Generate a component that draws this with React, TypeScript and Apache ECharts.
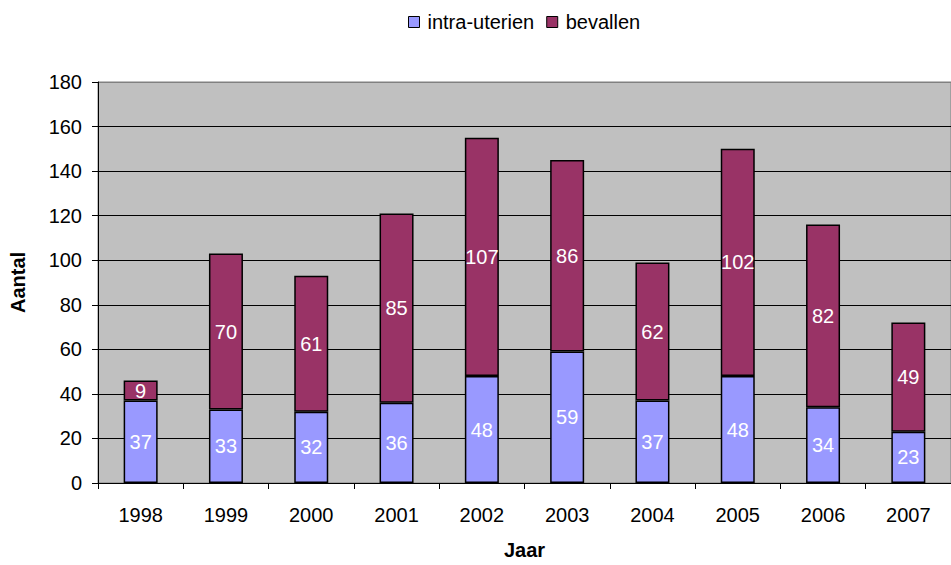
import React, { useEffect, useRef } from "react";
import * as echarts from "echarts";

const years = ["1998", "1999", "2000", "2001", "2002", "2003", "2004", "2005", "2006", "2007"];
const intraUterien = [37, 33, 32, 36, 48, 59, 37, 48, 34, 23];
const bevallen = [9, 70, 61, 85, 107, 86, 62, 102, 82, 49];
const seriesNames = ["intra-uterien", "bevallen"];
const seriesColors = ["#9999FF", "#993366"];

const FONT = "'Liberation Sans', Arial, sans-serif";

export default function App() {
  const ref = useRef<HTMLDivElement>(null);
  useEffect(() => {
    document.body.style.margin = "0";
    if (!ref.current) return;
    const chart = echarts.init(ref.current, null, { renderer: "svg" });
    const splitColors = Array.from({ length: 10 }, (_, i) => (i === 9 ? "#808080" : "#000000"));
    const mkSeries = (name: string, data: number[], color: string) => ({
      name,
      type: "bar",
      stack: "total",
      data,
      barWidth: 34,
      itemStyle: { color, borderColor: "#000", borderWidth: 1.5 },
      label: {
        show: true,
        position: "inside",
        color: "#fff",
        fontSize: 20,
        fontFamily: FONT,
      },
    });
    chart.setOption({
      animation: false,
      backgroundColor: "#fff",
      textStyle: { fontFamily: FONT },
      legend: {
        left: 403,
        top: 7,
        icon: "rect",
        itemWidth: 11,
        itemHeight: 11,
        itemGap: 12,
        itemStyle: { borderColor: "#000", borderWidth: 1 },
        textStyle: { fontSize: 20, color: "#000", fontFamily: FONT, padding: [0, 0, 0, 3] },
        data: seriesNames,
      },
      grid: {
        show: true,
        left: 98,
        top: 82,
        width: 864,
        height: 403,
        backgroundColor: "#C0C0C0",
        borderColor: "#808080",
        borderWidth: 1,
        containLabel: false,
      },
      xAxis: {
        type: "category",
        data: years,
        name: "Jaar",
        nameLocation: "middle",
        nameGap: 57,
        nameTextStyle: { fontSize: 20, fontWeight: "bold", color: "#000", fontFamily: FONT },
        axisLine: { show: true, lineStyle: { color: "#000", width: 1 } },
        axisTick: { show: true, length: 6, lineStyle: { color: "#000" } },
        axisLabel: { fontSize: 20, color: "#000", margin: 22, fontFamily: FONT },
      },
      yAxis: {
        type: "value",
        min: 0,
        max: 180,
        interval: 20,
        name: "Aantal",
        nameLocation: "middle",
        nameGap: 70,
        nameTextStyle: { fontSize: 20, fontWeight: "bold", color: "#000", fontFamily: FONT },
        axisLine: { show: true, lineStyle: { color: "#000", width: 1 } },
        axisTick: { show: true, length: 6, lineStyle: { color: "#000" } },
        axisLabel: { fontSize: 20, color: "#000", margin: 16, fontFamily: FONT },
        splitLine: { show: true, lineStyle: { color: splitColors, width: 1 } },
      },
      series: [
        mkSeries(seriesNames[0], intraUterien, seriesColors[0]),
        mkSeries(seriesNames[1], bevallen, seriesColors[1]),
      ],
    });
    return () => chart.dispose();
  }, []);
  return <div ref={ref} style={{ width: 951, height: 565 }} />;
}
